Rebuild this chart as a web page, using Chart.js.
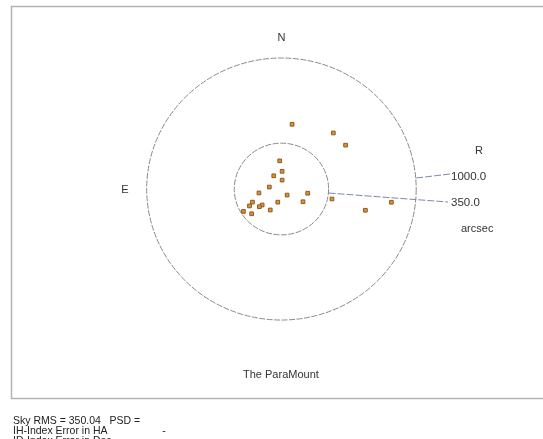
<!DOCTYPE html>
<html>
<head>
<meta charset="utf-8">
<script src="https://cdn.jsdelivr.net/npm/chart.js"></script>
<style>
  *{margin:0;padding:0;box-sizing:border-box}
  body{background:#fff;width:543px;height:439px;overflow:hidden;font-family:"Liberation Sans",Arial,sans-serif}
  .wrap{position:absolute;left:0;top:0;width:543px;height:439px}
  .foot{position:absolute;left:13px;top:415px;font-size:10.5px;line-height:10px;color:#222;white-space:pre}
</style>
</head>
<body>
<div class="wrap"><canvas id="c" width="543" height="439"></canvas></div>
<div class="foot">Sky RMS = 350.04   PSD =
IH-Index Error in HA                   -
ID-Index Error in Dec</div>
<script>
// pointing errors in arcsec (x: east/west, y: north/south)
const errX = [79, 385, 476, -13, 5, -57, 5, -90, -167, 195, 42, 375, 816, 160, -27, -215, -237, -143, -164, -83, -282, -221, 623];
const errY = [494, 428, 335, 215, 135, 101, 68, 15, -30, -32, -46, -76, -101, -97, -100, -100, -129, -122, -135, -160, -171, -189, -162];
const rings = [1000, 350];
const ringLabels = ["1000.0", "350.0"];

const pts = errX.map((x, i) => ({ x, y: errY[i] }));

const decor = {
  id: "decor",
  beforeDatasetsDraw(chart) {
    const { ctx, chartArea: a, scales: { x, y } } = chart;
    const cx = x.getPixelForValue(0), cy = y.getPixelForValue(0);
    ctx.save();
    // frame
    ctx.strokeStyle = "#b4b4b4"; ctx.lineWidth = 1.5;
    ctx.strokeRect(11.5, 6.5, 540, a.bottom - 6);
    // rings
    ctx.strokeStyle = "#8a8a8a"; ctx.lineWidth = 1;
    ctx.setLineDash([6, 1.5]);
    rings.forEach(r => {
      const rx = x.getPixelForValue(r) - cx, ry = cy - y.getPixelForValue(r);
      ctx.beginPath(); ctx.ellipse(cx, cy, rx, ry, 0, 0, Math.PI * 2); ctx.stroke();
    });
    // leader lines
    ctx.strokeStyle = "#7d8aa0"; ctx.setLineDash([7, 2]);
    const r0 = x.getPixelForValue(rings[0]) - cx, r1 = x.getPixelForValue(rings[1]) - cx;
    ctx.beginPath(); ctx.moveTo(cx + r0, cy - 11); ctx.lineTo(450, 174); ctx.stroke();
    ctx.beginPath(); ctx.moveTo(cx + r1, cy + 4); ctx.lineTo(448, 202); ctx.stroke();
    ctx.setLineDash([]);
    // labels
    ctx.fillStyle = "#333"; ctx.font = "11px 'Liberation Sans', Arial, sans-serif";
    ctx.textAlign = "center"; ctx.textBaseline = "middle";
    ctx.fillText("N", cx, 38);
    ctx.fillText("E", 125, cy + 1);
    ctx.fillText("R", 479, 151);
    ctx.textAlign = "left";
    ctx.font = "11.5px 'Liberation Sans', Arial, sans-serif";
    ctx.fillText(ringLabels[0], 451, 177);
    ctx.fillText(ringLabels[1], 451, 203);
    ctx.font = "11px 'Liberation Sans', Arial, sans-serif";
    ctx.fillText("arcsec", 461, 229);
    ctx.fillText("The ParaMount", 243, 375);
    ctx.restore();
  }
};

new Chart(document.getElementById("c"), {
  type: "scatter",
  data: { datasets: [{ data: pts, pointStyle: "rect", pointRadius: 2.6, backgroundColor: "#e2902e", borderColor: "#8b5a28", borderWidth: 1 }] },
  options: {
    responsive: false, animation: false,
    layout: { padding: { left: 11, top: 6, right: 0, bottom: 41 } },
    plugins: { legend: { display: false }, tooltip: { enabled: false } },
    scales: {
      x: { display: false, min: -2007, max: 1904 },
      y: { display: false, min: -1595, max: 1397 }
    }
  },
  plugins: [decor]
});
</script>
</body>
</html>
